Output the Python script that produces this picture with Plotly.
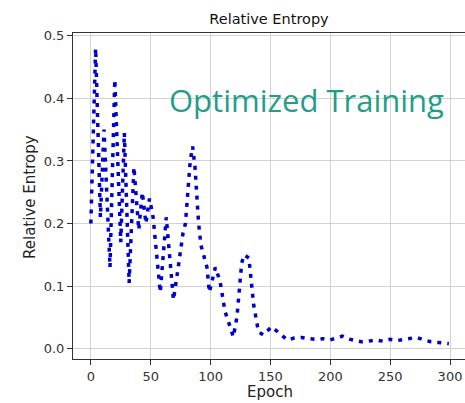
import plotly.graph_objects as go

# Key readings of the curve (epoch, relative entropy)
epochs = [0, 4, 8, 11, 16, 20, 25, 28, 32, 36, 40, 43, 46, 49, 52, 58, 63, 69,
          73, 77, 79, 83, 85, 87, 90, 92, 97, 99, 104, 108, 112, 119, 122, 126,
          128, 132, 136, 140, 144, 148, 151, 156, 164, 170, 176, 182, 188, 194,
          200, 205, 210, 214, 220, 226, 232, 238, 244, 250, 256, 262, 268, 272,
          278, 284, 290, 296, 299]
entropy = [0.20, 0.48, 0.21, 0.35, 0.13, 0.43, 0.17, 0.345, 0.105, 0.29, 0.19,
           0.25, 0.20, 0.24, 0.21, 0.09, 0.21, 0.078, 0.13, 0.185, 0.20, 0.30,
           0.323, 0.29, 0.20, 0.165, 0.13, 0.09, 0.13, 0.107, 0.06, 0.019, 0.05,
           0.137, 0.15, 0.145, 0.07, 0.027, 0.022, 0.03, 0.035, 0.027, 0.014,
           0.017, 0.018, 0.016, 0.015, 0.016, 0.014, 0.017, 0.02, 0.016, 0.013,
           0.011, 0.012, 0.014, 0.012, 0.015, 0.013, 0.015, 0.017, 0.018,
           0.014, 0.011, 0.010, 0.009, 0.008]

x_ticks = [0, 50, 100, 150, 200, 250, 300]
y_ticks = [0.0, 0.1, 0.2, 0.3, 0.4, 0.5]

title_text = "Relative Entropy"
x_label = "Epoch"
y_label = "Relative Entropy"
note_text = "Optimized Training"

fig = go.Figure()
fig.add_trace(go.Scatter(
    x=epochs, y=entropy, mode="lines",
    line=dict(color="#0000cc", width=3.5, dash="4px,6px"),
    showlegend=False,
))

axis_common = dict(
    showgrid=True, gridcolor="#d2d2d2", gridwidth=1,
    showline=True, linecolor="#333333", linewidth=1, mirror=True,
    ticks="outside", ticklen=5, tickcolor="#333333", zeroline=False,
    tickfont=dict(family="DejaVu Sans", size=13, color="#333333"),
)

fig.update_layout(
    width=465, height=403,
    margin=dict(l=73, r=0, t=33, b=44),
    paper_bgcolor="white", plot_bgcolor="white",
    xaxis=dict(range=[-14.9, 312.5], tickvals=x_ticks, **axis_common),
    yaxis=dict(range=[-0.0165, 0.5045], tickvals=y_ticks, tickformat=".1f", **axis_common),
    title=dict(text=title_text, x=(269 - 73) / 392, xref="paper", xanchor="center",
               y=1 - 19 / 403, yanchor="middle", yref="container",
               font=dict(family="DejaVu Sans", size=14.5, color="#111111")),
    annotations=[
        dict(text=x_label, xref="paper", yref="paper", x=0.5026, y=-0.101,
             xanchor="center", yanchor="middle", showarrow=False,
             font=dict(family="DejaVu Sans", size=15, color="#222222")),
        dict(text=y_label, xref="paper", yref="paper", x=-0.1097, y=0.497,
             xanchor="center", yanchor="middle", showarrow=False, textangle=-90,
             font=dict(family="DejaVu Sans", size=15, color="#222222")),
        dict(text=note_text, xref="paper", yref="paper", x=(306 - 73) / 392,
             y=(359 - 100) / 326, xanchor="center", yanchor="middle",
             showarrow=False,
             font=dict(family="Open Sans", size=31, color="#1f9e89")),
    ],
)

fig.write_html("out.html")
